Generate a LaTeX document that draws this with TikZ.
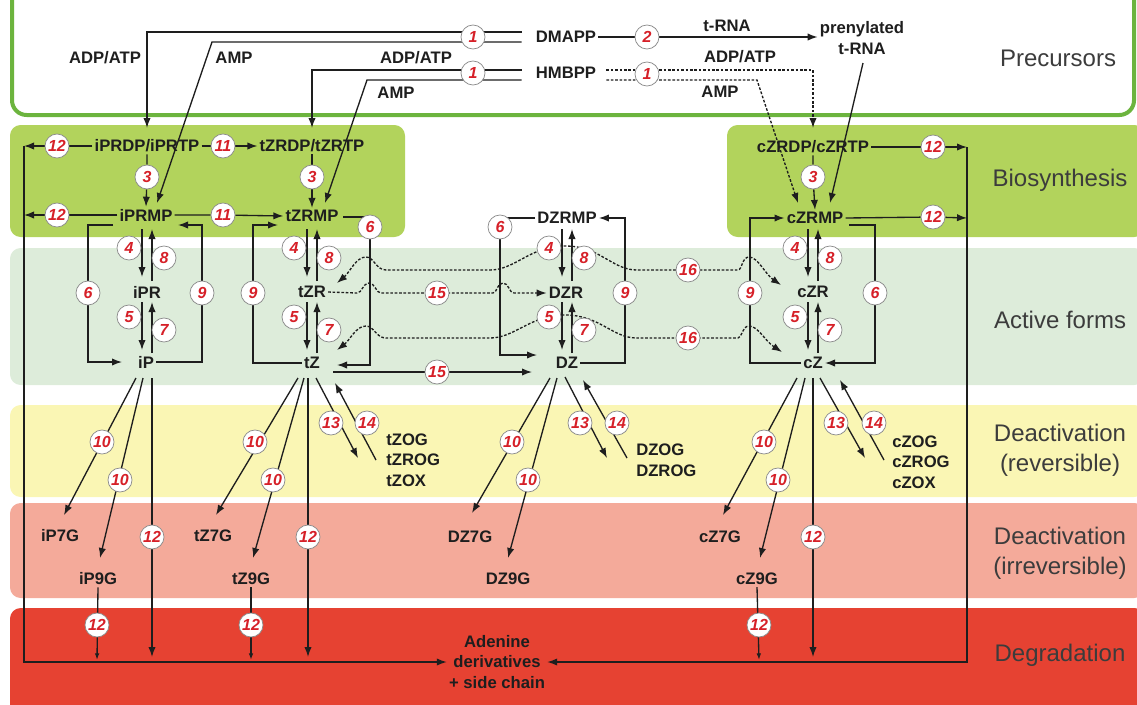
\documentclass[tikz,border=0pt]{standalone}
\usepackage{fontspec}
\setmainfont{Liberation Sans}
\usetikzlibrary{arrows.meta,calc}
\definecolor{numred}{RGB}{214,32,40}
\definecolor{biogreen}{RGB}{178,211,92}
\definecolor{actgreen}{RGB}{221,236,218}
\definecolor{yel}{RGB}{250,246,180}
\definecolor{salmon}{RGB}{244,170,154}
\definecolor{degred}{RGB}{230,66,50}
\definecolor{boxgreen}{RGB}{108,180,62}
\definecolor{ink}{RGB}{30,30,30}
\definecolor{lbltext}{RGB}{60,60,60}
\pgfdeclarelayer{bands}\pgfdeclarelayer{lines}\pgfsetlayers{bands,lines,main}
\begin{document}
\begin{tikzpicture}[x=0.75pt,y=-0.75pt,
 lbl/.style={font=\fontsize{12.5}{15.4}\selectfont\bfseries, text=ink, inner sep=1.5pt},
 num/.style={circle, draw=black!45, fill=white, line width=0.55pt, minimum size=18pt, inner sep=0pt, text=numred, font=\fontsize{12}{12}\selectfont\bfseries\itshape},
 band/.style={font=\fontsize{18}{22.5}\selectfont, text=lbltext, align=center},
 ln/.style={draw=ink, line width=1pt},
 arr/.style={ln, -{Latex[length=7.5pt,width=5.5pt]}},
 sarr/.style={ln, -{Latex[length=5pt,width=3.5pt]}},
 dsh/.style={ln, dash pattern=on 2pt off 1.3pt},
 darr/.style={dsh, -{Latex[length=7.5pt,width=5.5pt]}},
 ddarr/.style={dsh, {Latex[length=7.5pt,width=5.5pt]}-{Latex[length=7.5pt,width=5.5pt]}},
]
\useasboundingbox (0,0) rectangle (1137,704);
% ---------------- bands
\begin{pgfonlayer}{bands}
\draw[boxgreen, line width=3pt, fill=white, rounded corners=11pt] (12,-30) rectangle (1134,115);
\fill[biogreen, rounded corners=8pt] (10,125) rectangle (405,237);
\fill[biogreen, rounded corners=8pt] (727,125) rectangle (1145,237);
\fill[actgreen, rounded corners=8pt] (10,248) rectangle (1145,385);
\fill[yel, rounded corners=8pt] (10,405) rectangle (1145,497);
\fill[salmon, rounded corners=8pt] (10,503) rectangle (1145,598);
\fill[degred, rounded corners=8pt] (10,608) rectangle (1145,715);
\end{pgfonlayer}
% ---------------- band labels
\node[band] (Lpre) at (1058,58) {Precursors};
\node[band] (Lbio) at (1060,180) {Biosynthesis};
\node[band] (Lact) at (1060,320) {Active forms};
\node[band] (Ldr) at (1060,450) {Deactivation\\(reversible)};
\node[band] (Ldi) at (1060,553) {Deactivation\\(irreversible)};
\node[band] (Ldeg) at (1060,655) {Degradation};
% ---------------- precursors
\node[lbl] (DMAPP) at (566,37) {DMAPP};
\node[lbl] (HMBPP) at (566,73) {HMBPP};
\node[lbl, align=center] (ptRNA) at (862,38) {prenylated\\t-RNA};
\node[lbl] (tRNA) at (727,26) {t-RNA};
\node[lbl] (adp1) at (105,58) {ADP/ATP};
\node[lbl] (amp1) at (234,58) {AMP};
\node[lbl] (adp2) at (416,58) {ADP/ATP};
\node[lbl] (amp2) at (396,93) {AMP};
\node[lbl] (adp3) at (740,57) {ADP/ATP};
\node[lbl] (amp3) at (720,92) {AMP};
\node[num] (c1a) at (473,37) {1};
\node[num] (c1b) at (473,73) {1};
\node[num] (c2) at (647,37) {2};
\node[num] (c1c) at (647,74) {1};
% ---------------- biosynthesis / active nodes
\node[lbl] (iPRDP) at (147,146) {iPRDP/iPRTP};
\node[lbl] (tZRDP) at (312,146) {tZRDP/tZRTP};
\node[lbl] (cZRDP) at (813,147) {cZRDP/cZRTP};
\node[lbl] (iPRMP) at (146,215) {iPRMP};
\node[lbl] (tZRMP) at (312,216) {tZRMP};
\node[lbl] (DZRMP) at (567,218) {DZRMP};
\node[lbl] (cZRMP) at (815,218) {cZRMP};
\node[lbl] (iPR) at (147,292) {iPR};
\node[lbl] (tZR) at (312,292) {tZR};
\node[lbl] (DZR) at (566,293) {DZR};
\node[lbl] (cZR) at (813,292) {cZR};
\node[lbl] (iP) at (146,362) {iP};
\node[lbl] (tZ) at (312,363) {tZ};
\node[lbl] (DZ) at (567,363) {DZ};
\node[lbl] (cZ) at (813,363) {cZ};
\node[num] (c12a) at (57,146) {12};
\node[num] (c11a) at (223,146) {11};
\node[num] (c3a) at (147,177) {3};
\node[num] (c3b) at (312,177) {3};
\node[num] (c3c) at (813,177) {3};
\node[num] (c12b) at (57,215) {12};
\node[num] (c11b) at (223,215) {11};
\node[num] (c12c) at (933,147) {12};
\node[num] (c12d) at (933,217) {12};
\node[num] (c6a) at (88,293) {6};
\node[num] (c9a) at (202,293) {9};
\node[num] (c9b) at (253,293) {9};
\node[num] (c6b) at (370,227) {6};
\node[num] (c6c) at (500,227) {6};
\node[num] (c9c) at (625,293) {9};
\node[num] (c9d) at (750,293) {9};
\node[num] (c6d) at (875,293) {6};
\foreach \xc/\nm in {147/a,312/b,567/c,813/d}{
  \node[num] (c4\nm) at (\xc-18,248) {4};
  \node[num] (c8\nm) at (\xc+17,258) {8};
  \node[num] (c5\nm) at (\xc-18,317) {5};
  \node[num] (c7\nm) at (\xc+17,330) {7};
}
\node[num] (c15a) at (437,293) {15};
\node[num] (c15b) at (437,372) {15};
\node[num] (c16a) at (688,270) {16};
\node[num] (c16b) at (688,338) {16};
% ---------------- deactivation nodes
\node[lbl] (iP7G) at (60,536) {iP7G};
\node[lbl] (iP9G) at (98,579) {iP9G};
\node[lbl] (tZ7G) at (213,536) {tZ7G};
\node[lbl] (tZ9G) at (251,579) {tZ9G};
\node[lbl] (DZ7G) at (470,537) {DZ7G};
\node[lbl] (DZ9G) at (508,579) {DZ9G};
\node[lbl] (cZ7G) at (720,537) {cZ7G};
\node[lbl] (cZ9G) at (757,579) {cZ9G};
\node[lbl, align=left, anchor=west] (tZOG) at (384,460) {tZOG\\tZROG\\tZOX};
\node[lbl, align=left, anchor=west] (DZOG) at (634,460) {DZOG\\DZROG};
\node[lbl, align=left, anchor=west] (cZOG) at (890,462) {cZOG\\cZROG\\cZOX};
\node[lbl, align=center] (ad) at (497,662) {Adenine\\derivatives\\+ side chain};
\node[num] (c10a) at (102,442) {10};
\node[num] (c10b) at (120,480) {10};
\node[num] (c12e) at (152,537) {12};
\node[num] (c12f) at (97,625) {12};
\node[num] (c10c) at (255,442) {10};
\node[num] (c10d) at (273,480) {10};
\node[num] (c12g) at (308,537) {12};
\node[num] (c12h) at (251,625) {12};
\node[num] (c13a) at (331,423) {13};
\node[num] (c14a) at (367,423) {14};
\node[num] (c10e) at (512,442) {10};
\node[num] (c10f) at (528,480) {10};
\node[num] (c13b) at (580,423) {13};
\node[num] (c14b) at (617,423) {14};
\node[num] (c10g) at (764,442) {10};
\node[num] (c10h) at (778,480) {10};
\node[num] (c12i) at (813,537) {12};
\node[num] (c12j) at (759,625) {12};
\node[num] (c13c) at (836,423) {13};
\node[num] (c14c) at (874,423) {14};
\coordinate (lv) at (24,146);
\coordinate (rv) at (967,147);
\coordinate (ptfoot) at (863,63);
% ---------------- connectors
\begin{pgfonlayer}{lines}
% precursors
\draw[arr] ($(DMAPP.west)+(-12,-5)$) -| (147,128);
\draw[arr] ($(DMAPP.west)+(-12,5)$) -- (212,42) -- (157,203);
\draw[arr] ($(HMBPP.west)+(-12,-3)$) -| (312,128);
\draw[arr] ($(HMBPP.west)+(-12,7)$) -- (367,80) -- (325,203);
\draw[arr] (DMAPP.east) -- (c2) -- (ptRNA.west |- c2);
\draw[darr] ($(HMBPP.east)+(8,-3)$) -| (813,128);
\draw[darr] ($(HMBPP.east)+(8,7)$) -- (757,80) -- (798,203);
\draw[arr] (ptfoot) -- (830,203);
% biosynthesis
\draw[arr] (iPRDP.west) -- (c12a) -- (lv);
\draw[arr] (iPRDP.east) -- (c11a) -- (tZRDP.west);
\draw[arr] (iPRDP.south) -- (c3a) -- (iPRMP.north);
\draw[arr] (tZRDP.south) -- (c3b) -- (tZRMP.north);
\draw[arr] (cZRDP.south) -- (c3c) -- (cZRMP.north);
\draw[arr] (iPRMP.west) -- (c12b) -- (iPRMP.west -| lv);
\draw[arr] (iPRMP.east) -- (c11b) -- (tZRMP.west);
\draw[arr] (cZRDP.east) -- (c12c) -- (rv);
\draw[arr] (cZRMP.east) -- (c12d) -- (cZRMP.east -| rv);
% side routes 6 / 9
\draw[arr] (113,225) -| (c6a) |- (122,362);
\draw[arr] (iP.east) -| (c9a) |- (178,225);
\draw[arr] (tZ.west) -| (c9b) |- (278,225);
\draw[arr] (343,217) -| (c6b) |- (337,365);
\draw[arr] (DZRMP.west) -| (c6c) |- (537,355);
\draw[arr] (DZ.east) -| (c9c) |- (DZRMP.east);
\draw[arr] (cZ.west) -| (c9d) |- (cZRMP.west);
\draw[arr] (849,225) -| (c6d) |- (cZ.east);
% vertical 4/8/5/7
\foreach \xc in {147,312,567,813}{
  \draw[arr] (\xc-5,229) -- (\xc-5,277);
  \draw[arr] (\xc+5,281) -- (\xc+5,229);
  \draw[arr] (\xc-5,302) -- (\xc-5,350);
  \draw[arr] (\xc+5,353) -- (\xc+5,302);
}
% 15 / 16
\draw[ddarr] (337,283) .. controls (350,272) and (356,257) .. (366,257) .. controls (374,257) and (376,270) .. (386,270) -- (490,270) .. controls (515,270) and (530,246) .. (565,246) .. controls (600,246) and (612,270) .. (637,270) -- (738,270) .. controls (742,270) and (742,257) .. (749,257) .. controls (758,257) and (765,274) .. (781,285);
\draw[ddarr] (337,350) .. controls (350,340) and (356,326) .. (366,326) .. controls (374,326) and (376,338) .. (386,338) -- (490,338) .. controls (515,338) and (530,315) .. (565,315) .. controls (600,315) and (612,338) .. (637,338) -- (738,338) .. controls (742,338) and (742,326) .. (749,326) .. controls (758,326) and (765,341) .. (782,352);
\draw[darr] (tZR.east) -- (357,293) .. controls (362,293) and (363,283) .. (369,283) .. controls (375,283) and (376,293) .. (381,293) -- (493,293) .. controls (497,293) and (497,283) .. (503,283) .. controls (509,283) and (509,293) .. (514,293) -- (DZR.west);
\draw[arr] (333,372) -- (c15b) -- (532,372);
% deactivation
\draw[arr] (136,378) -- (64,515);
\draw[arr] (143,378) -- (100,558);
\draw[arr] (152,378) -- (152,657);
\draw[sarr] (iP9G.south) -- (97,660);
\draw[arr] (298,378) -- (216,515);
\draw[arr] (304,378) -- (253,558);
\draw[arr] (308,378) -- (308,657);
\draw[arr] (316,378) -- (358,458);
\draw[arr] (376,460) -- (335,383);
\draw[sarr] (tZ9G.south) -- (251,660);
\draw[arr] (550,378) -- (472,513);
\draw[arr] (557,378) -- (508,558);
\draw[arr] (565,377) -- (607,458);
\draw[arr] (627,458) -- (583,380);
\draw[arr] (797,378) -- (723,515);
\draw[arr] (805,378) -- (760,558);
\draw[arr] (813,378) -- (813,657);
\draw[arr] (820,378) -- (865,458);
\draw[arr] (884,460) -- (840,380);
\draw[sarr] (cZ9G.south) -- (759,660);
% degradation
\draw[arr] (lv) |- (ad.west);
\draw[arr] (rv) |- (ad.east);
\end{pgfonlayer}
\end{tikzpicture}
\end{document}
